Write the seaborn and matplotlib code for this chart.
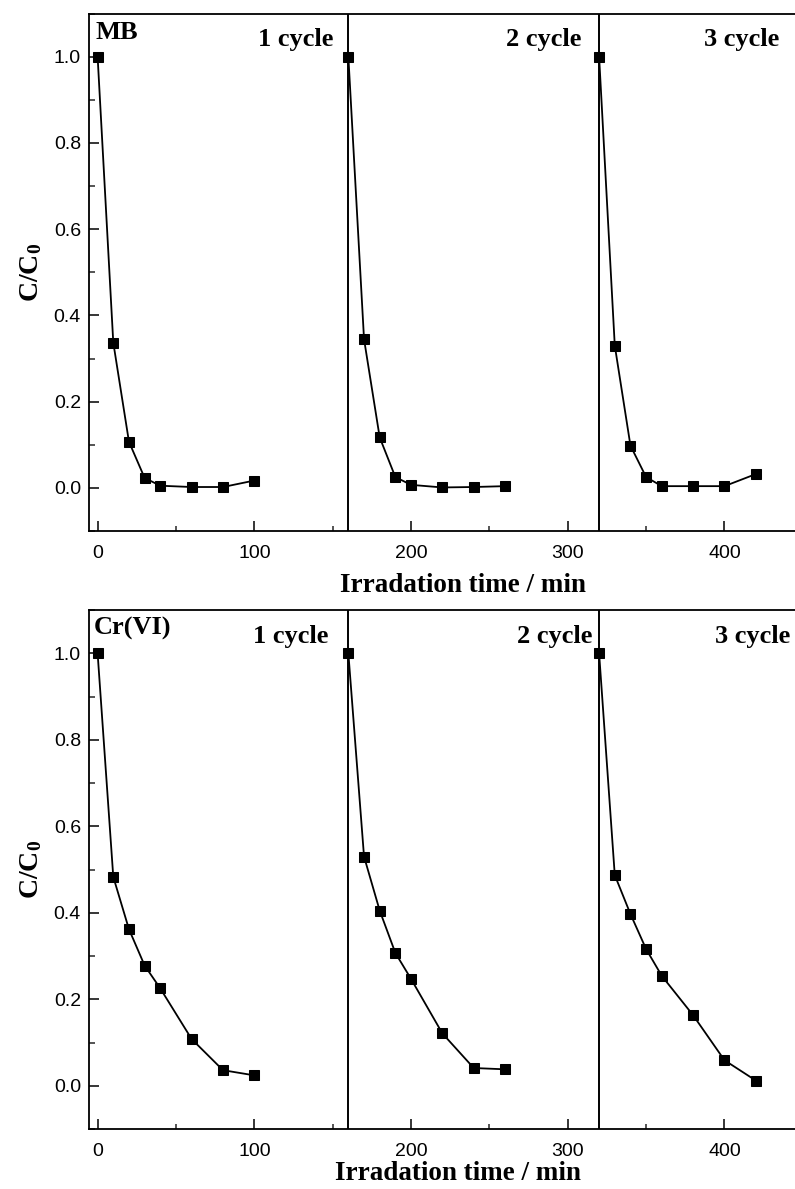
import numpy as np
import pandas as pd
import matplotlib
matplotlib.use("Agg")
import matplotlib.pyplot as plt
from matplotlib.ticker import MultipleLocator, FormatStrFormatter
import seaborn as sns

# ---- data ----
time_c1 = [0, 10, 20, 30, 40, 60, 80, 100]
time_c2 = [160, 170, 180, 190, 200, 220, 240, 260]
time_c3 = [320, 330, 340, 350, 360, 380, 400, 420]

mb_c1 = [1.0, 0.337, 0.107, 0.023, 0.005, 0.002, 0.002, 0.017]
mb_c2 = [1.0, 0.345, 0.117, 0.025, 0.007, 0.001, 0.002, 0.004]
mb_c3 = [1.0, 0.330, 0.098, 0.025, 0.004, 0.004, 0.004, 0.032]

cr_c1 = [1.0, 0.483, 0.362, 0.278, 0.225, 0.108, 0.036, 0.024]
cr_c2 = [1.0, 0.530, 0.405, 0.307, 0.247, 0.121, 0.041, 0.038]
cr_c3 = [1.0, 0.487, 0.397, 0.316, 0.254, 0.163, 0.059, 0.012]

cycle_labels = ["1 cycle", "2 cycle", "3 cycle"]
separators = [160, 320]

sns.set_theme(style="ticks")
plt.rcParams["font.family"] = ["Liberation Sans", "DejaVu Sans"]
plt.rcParams["mathtext.fontset"] = "custom"
plt.rcParams["mathtext.rm"] = "Liberation Serif"
plt.rcParams["mathtext.bf"] = "Liberation Serif:bold"
plt.rcParams["text.color"] = "black"
plt.rcParams["axes.labelcolor"] = "black"

def make_df(times, vals):
    rows = []
    for k, (t, v) in enumerate(zip(times, vals)):
        for ti, vi in zip(t, v):
            rows.append({"time": ti, "cc0": vi, "cycle": k})
    return pd.DataFrame(rows)

df_mb = make_df([time_c1, time_c2, time_c3], [mb_c1, mb_c2, mb_c3])
df_cr = make_df([time_c1, time_c2, time_c3], [cr_c1, cr_c2, cr_c3])

fig = plt.figure(figsize=(7.95, 11.89), dpi=100)
W, H = 795, 1189
left = 89.3 / W
ax1 = fig.add_axes([left, 1 - 531 / H, 1 - left, (531 - 13.5) / H])
ax2 = fig.add_axes([left, 1 - 1129 / H, 1 - left, (1129 - 610) / H])

serif_bold = dict(family="Liberation Serif", fontweight="bold", color="black")

def style_axis(ax, df, name, name_xy, cyc_pos, label_xy):
    sns.lineplot(data=df, x="time", y="cc0", units="cycle", estimator=None,
                 color="black", marker="s", markersize=7, markeredgecolor="black",
                 linewidth=1.3, ax=ax, legend=False)
    for s in separators:
        ax.axvline(s, color="black", linewidth=1.4)
    ax.set_xlim(-5.3, 445)
    ax.set_ylim(-0.1, 1.1)
    ax.xaxis.set_major_locator(MultipleLocator(100))
    ax.xaxis.set_minor_locator(MultipleLocator(50))
    ax.yaxis.set_major_locator(MultipleLocator(0.2))
    ax.yaxis.set_minor_locator(MultipleLocator(0.1))
    ax.yaxis.set_major_formatter(FormatStrFormatter("%.1f"))
    ax.tick_params(axis="both", which="major", direction="in", length=7.5,
                   width=1.1, labelsize=14, colors="black")
    ax.tick_params(axis="x", which="major", length=7, pad=10)
    ax.tick_params(axis="y", which="major", pad=6)
    ax.tick_params(axis="both", which="minor", direction="in", length=3.5, width=1.1)
    ax.tick_params(axis="y", which="minor", length=4.5)
    ax.spines["right"].set_visible(False)
    for sp in ["left", "bottom", "top"]:
        ax.spines[sp].set_linewidth(1.3)
        ax.spines[sp].set_color("black")
    ax.set_xlabel("Irradation time / min", fontsize=19.5, **serif_bold)
    ax.xaxis.set_label_coords(label_xy[0], label_xy[1])
    ax.set_ylabel(r"$\mathbf{C/C_0}$", fontsize=20, labelpad=7)
    ax.text(name_xy[0], name_xy[1], name, fontsize=19, ha="left", va="center", **serif_bold)
    for lbl, (x, y) in zip(cycle_labels, cyc_pos):
        ax.text(x, y, lbl, fontsize=19, ha="right", va="center", **serif_bold)

style_axis(ax1, df_mb, "MB", (-1.5, 1.055),
           [(150.2, 1.039), (308.5, 1.039), (435, 1.039)], (0.53, -0.081))
style_axis(ax2, df_cr, "Cr(VI)", (-2.5, 1.058),
           [(147, 1.038), (315.5, 1.038), (442, 1.038)], (0.522, -0.062))

fig.savefig("out.png", dpi=100)
